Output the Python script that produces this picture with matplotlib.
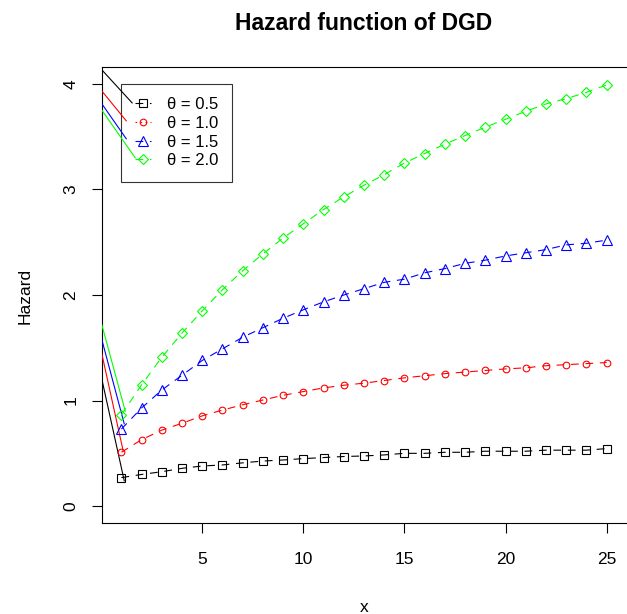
import matplotlib
matplotlib.use("Agg")
import matplotlib.pyplot as plt
from matplotlib.lines import Line2D

plt.rcParams['font.family'] = ['Liberation Sans', 'DejaVu Sans']

x = list(range(1, 26))
labels = ["θ = 0.5", "θ = 1.0", "θ = 1.5", "θ = 2.0"]
colors = ["#000000", "#FF0000", "#0000FF", "#00FF00"]
markers = ["s", "o", "^", "D"]

h_05 = [0.27, 0.30, 0.326, 0.358, 0.38, 0.39, 0.41, 0.427, 0.437, 0.45, 0.46, 0.47, 0.475,
        0.485, 0.50, 0.50, 0.51, 0.51, 0.52, 0.52, 0.52, 0.53, 0.53, 0.53, 0.545]
h_10 = [0.51, 0.63, 0.72, 0.785, 0.855, 0.91, 0.96, 1.005, 1.05, 1.085, 1.12, 1.145, 1.165,
        1.19, 1.215, 1.235, 1.255, 1.27, 1.285, 1.30, 1.31, 1.33, 1.34, 1.35, 1.36]
h_15 = [0.73, 0.93, 1.10, 1.24, 1.38, 1.49, 1.60, 1.69, 1.78, 1.86, 1.935, 2.00, 2.06,
        2.12, 2.15, 2.21, 2.25, 2.30, 2.33, 2.37, 2.40, 2.43, 2.475, 2.49, 2.52]
h_20 = [0.865, 1.15, 1.41, 1.64, 1.85, 2.05, 2.23, 2.39, 2.54, 2.675, 2.81, 2.93, 3.04,
        3.14, 3.25, 3.34, 3.43, 3.51, 3.59, 3.665, 3.74, 3.81, 3.86, 3.92, 3.99]
series = [h_05, h_10, h_15, h_20]

# solid segments (data coordinates): lower and upper groups
low_x0 = [0.0, 0.0, 0.0, 0.0]
low_y0 = [1.23, 1.47, 1.60, 1.74]
low_x1 = [1.14, 1.09, 1.14, 1.19]
low_y1 = [0.24, 0.52, 0.78, 0.90]
up_x0 = [-0.05, 0.0, 0.0, 0.0]
up_y0 = [4.15, 3.94, 3.82, 3.76]
up_x1 = [1.53, 1.24, 1.24, 1.68]
up_y1 = [3.82, 3.65, 3.48, 3.30]

W, H, DPI = 627, 614, 100
fig = plt.figure(figsize=(W / DPI, H / DPI), dpi=DPI)
ax = fig.add_axes([102 / W, (H - 523) / H, 524 / W, 456 / H])

msizes = [5.6, 4.8, 6.6, 5.2]
for i, ys in enumerate(series):
    ax.plot(x, ys, color=colors[i], lw=0.8, dashes=(7, 6), marker=markers[i],
            markersize=msizes[i], markerfacecolor='none', markeredgecolor=colors[i],
            markeredgewidth=0.8, zorder=3)
    ax.plot([low_x0[i], low_x1[i]], [low_y0[i], low_y1[i]], color=colors[i], lw=0.8, zorder=3)
    ax.plot([up_x0[i], up_x1[i]], [up_y0[i], up_y1[i]], color=colors[i], lw=0.8, zorder=6)

ax.set_xlim(0.04, 25.96)
ax.set_ylim(-0.16, 4.16)
ax.set_xticks([5, 10, 15, 20, 25])
ax.set_yticks([0, 1, 2, 3, 4])
ax.tick_params(axis='x', length=7, width=0.8, labelsize=12.5, pad=14)
ax.tick_params(axis='y', length=7, width=0.8, labelsize=12.5, pad=10)
for lab in ax.get_yticklabels():
    lab.set_rotation(90)
    lab.set_va('center')
for sp in ax.spines.values():
    sp.set_linewidth(0.8)
ax.spines['right'].set_visible(False)

fig.text(364 / W, 1 - 29.5 / H, "Hazard function of DGD", ha='center', va='baseline',
         fontsize=16.5, fontweight='bold')
fig.text(364 / W, 1 - 607 / H, "x", ha='center', va='center', fontsize=12.5)
fig.text(25 / W, 1 - 296 / H, "Hazard", ha='center', va='center', fontsize=12.5, rotation=90)

ls_leg = [(0, (7, 6)), (0, (1.5, 3)), (0, (7, 6)), (0, (7, 6))]
handles = [Line2D([], [], color=colors[i], lw=0.8, linestyle=ls_leg[i], marker=markers[i],
                  markersize=msizes[i], markerfacecolor='none', markeredgewidth=0.8)
           for i in range(4)]
leg = ax.legend(handles, labels, loc='upper left', bbox_to_anchor=(1.0, 4.0),
                bbox_transform=ax.transData, fontsize=12, frameon=True, fancybox=False,
                edgecolor='black', facecolor='none', borderaxespad=0, handlelength=1.0,
                handletextpad=0.95, labelspacing=0.22, borderpad=0.8)
leg.get_frame().set_linewidth(0.8)
leg.set_zorder(5)

fig.savefig("out.png", dpi=DPI)
